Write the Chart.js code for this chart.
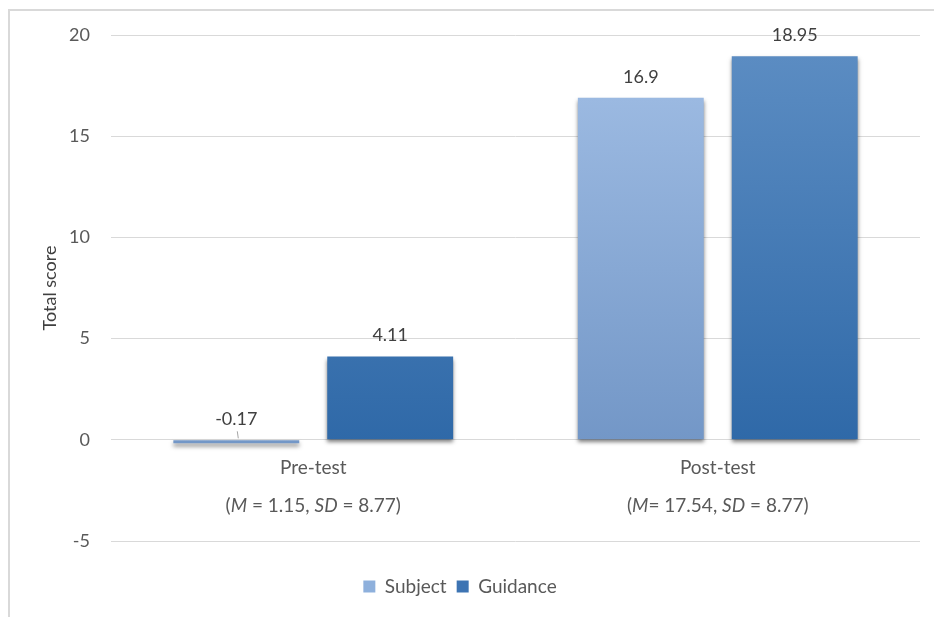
<!DOCTYPE html>
<html>
<head>
<meta charset="utf-8">
<script src="https://cdn.jsdelivr.net/npm/chart.js@4/dist/chart.umd.min.js"></script>
<style>
  html, body { margin: 0; padding: 0; background: #fff; }
  #wrap { width: 934px; height: 617px; position: relative; }
</style>
</head>
<body>
<div id="wrap"><canvas id="scores"></canvas></div>
<script>
// data
const categories = ['Pre-test', 'Post-test'];
const subject = [-0.17, 16.9];
const guidance = [4.11, 18.95];
const statMeans = ['1.15', '17.54'];
const statMeanEq = [' = ', '= '];
const statSDs = ['8.77', '8.77'];
const yTicks = [-5, 0, 5, 10, 15, 20];

const FONT = 'Lato, "Open Sans", sans-serif';
const textGrey = '#595959';

// top/bottom colours of each dataset's gradient
const barColours = [
  ['#9bb9e1', '#7397c7'],
  ['#5b8cc2', '#2f69a8']
];

// frame, bar gradients + shadow, value labels, stats line
const decorPlugin = {
  id: 'decor',
  beforeDraw(chart) {
    const ctx = chart.ctx;
    ctx.save();
    ctx.fillStyle = '#fff';
    ctx.fillRect(0, 0, chart.width, chart.height);
    ctx.strokeStyle = '#d9d9d9';
    ctx.lineWidth = 2;
    ctx.beginPath();
    ctx.moveTo(9, chart.height);
    ctx.lineTo(9, 10);
    ctx.lineTo(chart.width, 10);
    ctx.stroke();
    ctx.restore();
  },
  beforeDatasetsDraw(chart) {
    const ctx = chart.ctx;
    chart.data.datasets.forEach((ds, i) => {
      chart.getDatasetMeta(i).data.forEach(bar => {
        const top = Math.min(bar.y, bar.base);
        const bottom = Math.max(bar.y, bar.base);
        const g = ctx.createLinearGradient(0, top, 0, bottom + 1);
        g.addColorStop(0, barColours[i][0]);
        g.addColorStop(1, barColours[i][1]);
        bar.options.backgroundColor = g;
      });
    });
    ctx.save();
    ctx.shadowColor = 'rgba(0,0,0,0.5)';
    ctx.shadowBlur = 4;
    ctx.shadowOffsetX = 0;
    ctx.shadowOffsetY = 3;
  },
  afterDatasetsDraw(chart) {
    const ctx = chart.ctx;
    ctx.restore();
    ctx.save();
    ctx.font = '18px ' + FONT;
    ctx.fillStyle = '#404040';
    ctx.textAlign = 'center';
    ctx.textBaseline = 'middle';
    chart.data.datasets.forEach((ds, i) => {
      chart.getDatasetMeta(i).data.forEach((bar, j) => {
        const v = ds.data[j];
        const top = Math.min(bar.y, bar.base);
        const ly = top - 21;
        ctx.fillText(String(v), bar.x, ly);
        if (v < 0) {
          // small leader line like the original
          ctx.strokeStyle = '#a6a6a6';
          ctx.lineWidth = 1;
          ctx.beginPath();
          ctx.moveTo(bar.x + 1, ly + 12);
          ctx.lineTo(bar.x + 2, bar.base - 2);
          ctx.stroke();
        }
      });
    });

    // second line under each category: (M = .., SD = ..)
    const xs = chart.scales.x;
    const y0 = chart.scales.y.getPixelForValue(0);
    ctx.fillStyle = textGrey;
    ctx.textAlign = 'left';
    categories.forEach((c, j) => {
      const parts = [
        ['(', false], ['M', true], [statMeanEq[j] + statMeans[j] + ', ', false],
        ['SD', true], [' = ' + statSDs[j] + ')', false]
      ];
      let w = 0;
      parts.forEach(p => {
        ctx.font = (p[1] ? 'italic ' : '') + '19px ' + FONT;
        w += ctx.measureText(p[0]).width;
      });
      let x = xs.getPixelForValue(j) - w / 2;
      parts.forEach(p => {
        ctx.font = (p[1] ? 'italic ' : '') + '19px ' + FONT;
        ctx.fillText(p[0], x, y0 + 66);
        x += ctx.measureText(p[0]).width;
      });
    });
    ctx.restore();
  }
};

const ctx = document.getElementById('scores').getContext('2d');
new Chart(ctx, {
  type: 'bar',
  data: {
    labels: categories,
    datasets: [
      { label: 'Subject', data: subject, backgroundColor: '#8eb0dc', borderWidth: 0, xAxisID: 'x' },
      { label: 'Guidance', data: guidance, backgroundColor: '#3d74b3', borderWidth: 0, xAxisID: 'x' }
    ]
  },
  options: {
    responsive: true,
    maintainAspectRatio: false,
    animation: false,
    categoryPercentage: 0.761,
    barPercentage: 0.818,
    layout: { padding: { left: 0, right: 14, top: 35, bottom: 11 } },
    plugins: {
      tooltip: { enabled: false },
      legend: {
        position: 'bottom',
        labels: {
          boxWidth: 12,
          boxHeight: 12,
          padding: 10,
          color: textGrey,
          font: { family: FONT, size: 19 }
        }
      }
    },
    scales: {
      x: {
        position: { y: 0 },
        grid: { display: false },
        border: { display: false },
        ticks: { color: textGrey, padding: 9, font: { family: FONT, size: 19 } }
      },
      xs: {
        type: 'category',
        position: 'bottom',
        grid: { display: false },
        border: { display: false },
        ticks: { display: false },
        afterFit(scale) { scale.height = 26; }
      },
      y: {
        min: -5,
        max: 20,
        afterBuildTicks(scale) { scale.ticks = yTicks.map(v => ({ value: v })); },
        afterFit(scale) { scale.width = 111; },
        grid: { color: '#d9d9d9', lineWidth: 1, drawTicks: false },
        border: { display: false },
        ticks: { color: textGrey, padding: 21, font: { family: FONT, size: 18 } },
        title: {
          display: true,
          text: 'Total score',
          color: '#404040',
          padding: { top: 39, bottom: 0 },
          font: { family: FONT, size: 18 }
        }
      }
    }
  },
  plugins: [decorPlugin]
});
</script>
</body>
</html>
